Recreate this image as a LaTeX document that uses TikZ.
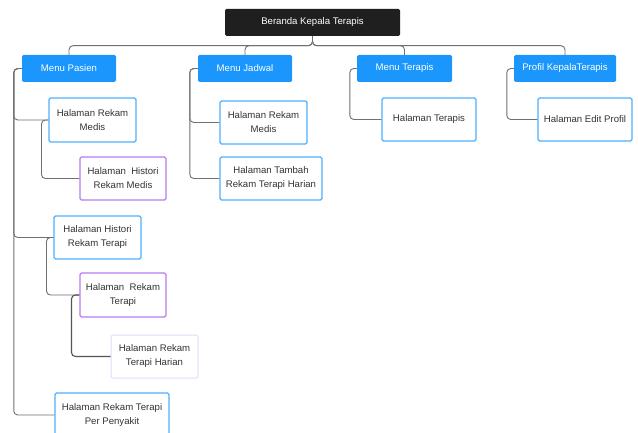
\documentclass[tikz,border=0pt]{standalone}
\usepackage{fontspec}
\setmainfont{Liberation Sans}
\definecolor{linegray}{HTML}{707070}
\definecolor{darkline}{HTML}{555555}
\definecolor{menublue}{HTML}{1A96FC}
\definecolor{pageblue}{HTML}{4DB0FF}
\definecolor{pagepurple}{HTML}{B77CF2}
\definecolor{lightpurple}{HTML}{E6D8FF}
\definecolor{topblack}{HTML}{1F1F1F}
\definecolor{textgray}{HTML}{333333}
\begin{document}
\begin{tikzpicture}[x=1pt,y=-1pt,
  conn/.style={draw=linegray, line width=0.9pt, rounded corners=4pt},
  basebox/.style={rectangle, rounded corners=1.5pt, align=center, inner sep=0pt, font=\fontsize{9.6}{14}\selectfont},
  topbox/.style={basebox, fill=topblack, text=white, minimum width=175pt, minimum height=27pt},
  menubox/.style={basebox, fill=menublue, text=white, minimum height=27pt},
  pagebox/.style={basebox, draw=pageblue, line width=1.1pt, fill=white, text=textgray},
  purplebox/.style={basebox, draw=pagepurple, line width=1.1pt, fill=white, text=textgray},
  lightbox/.style={basebox, draw=lightpurple, line width=1pt, fill=white, text=textgray}]
\useasboundingbox (0,0) rectangle (638,433);
\clip (0,0) rectangle (638,433);
\fill[white] (0,0) rectangle (638,433);

% top
\node[topbox] (top) at (312.5,22.5) {Beranda Kepala Terapis};
% menus
\node[menubox, minimum width=94pt] (pasien) at (69,68.5) {Menu Pasien};
\node[menubox, minimum width=94pt] (jadwal) at (245,68.5) {Menu Jadwal};
\node[menubox, minimum width=95pt] (terapis) at (404.5,68.5) {Menu Terapis};
\node[menubox, minimum width=102pt] (profil) at (565,68.5) {Profil KepalaTerapis};

% pages
\node[pagebox, minimum width=87pt, minimum height=44pt] (rm1) at (92.5,120) {Halaman Rekam\\Medis};
\node[purplebox, minimum width=86pt, minimum height=43pt] (hrm) at (123,178.5) {Halaman~ Histori\\Rekam Medis};
\node[pagebox, minimum width=87pt, minimum height=43pt] (hrt) at (97.5,237.5) {Halaman Histori\\Rekam Terapi};
\node[purplebox, minimum width=86pt, minimum height=44pt] (rt) at (123,295) {Halaman~ Rekam\\Terapi};
\node[lightbox, minimum width=87pt, minimum height=43pt] (rth) at (154.5,356.5) {Halaman Rekam\\Terapi Harian};
\node[pagebox, minimum width=114pt, minimum height=44pt] (rtp) at (112,415) {Halaman Rekam Terapi\\Per Penyakit};
\node[pagebox, minimum width=87pt, minimum height=43pt] (rm2) at (263.5,122.5) {Halaman Rekam\\Medis};
\node[pagebox, minimum width=102pt, minimum height=43pt] (trh) at (271,178.5) {Halaman Tambah\\Rekam Terapi Harian};
\node[pagebox, minimum width=94pt, minimum height=43pt] (ht) at (429,119.5) {Halaman Terapis};
\node[pagebox, minimum width=94pt, minimum height=43pt] (hep) at (585,119.5) {Halaman Edit Profil};

% bus from top
\coordinate (bus) at (0,45.7);
\foreach \m in {pasien,jadwal,terapis,profil}
  \draw[conn] (top.south) |- (bus -| \m.north) -- (\m.north);

% vertical helper coordinates
\coordinate (pv) at ([xshift=-8pt]pasien.west);
\coordinate (jv) at ([xshift=-8pt]jadwal.west);
\coordinate (tv) at ([xshift=-7pt]terapis.west);
\coordinate (fv) at ([xshift=-7pt]profil.west);
\coordinate (rv) at ([xshift=-7pt]rm1.west);
\coordinate (hv) at ([xshift=-7pt]hrt.west);
\coordinate (sv) at ([xshift=-8pt]rt.west);

% Menu Pasien tree
\foreach \c in {rm1,hrt,rtp}
  \draw[conn] (pasien.west) -| (pv |- \c.west) -- (\c.west);
\draw[conn] (rm1.west) -| (rv |- hrm.west) -- (hrm.west);
\draw[conn] (hrt.west) -| (hv |- rt.west) -- (rt.west);
\draw[conn, draw=darkline, line width=1.1pt] (rt.west) -| (sv |- rth.west) -- (rth.west);

% Menu Jadwal tree
\foreach \c in {rm2,trh}
  \draw[conn] (jadwal.west) -| (jv |- \c.west) -- (\c.west);
% Menu Terapis
\draw[conn] (terapis.west) -| (tv |- ht.west) -- (ht.west);
% Profil
\draw[conn] (profil.west) -| (fv |- hep.west) -- (hep.west);

% redraw nodes on top of lines
\end{tikzpicture}
\end{document}
